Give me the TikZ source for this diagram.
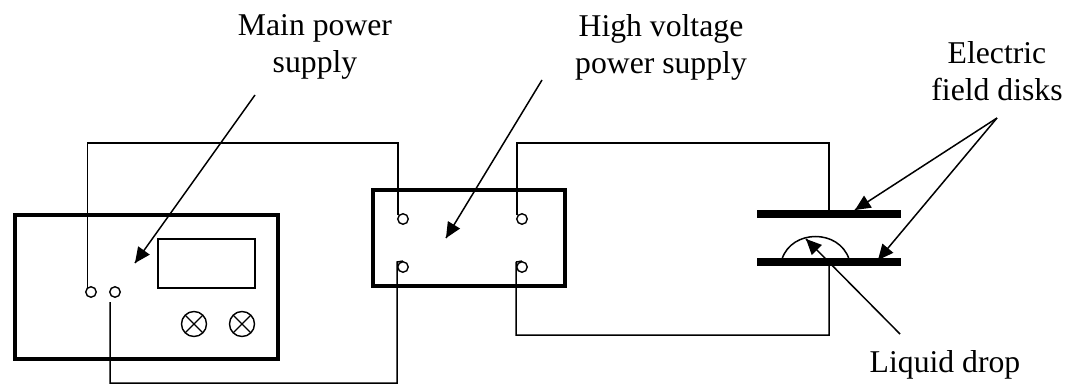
\documentclass[tikz,border=0pt]{standalone}
\usepackage{fontspec}
\setmainfont{Liberation Serif}
\usetikzlibrary{calc}
\tikzset{
  x=1pt,y=-1pt,
  thickbox/.style={draw=black,line width=3.6pt,fill=none},
  wire/.style={draw=black,line width=1.5pt},
  term/.style={circle,draw=black,line width=1.4pt,minimum size=10.5pt,inner sep=0pt},
  lamp/.style={circle,draw=black,line width=1.4pt,minimum size=25pt,inner sep=0pt,path picture={\draw[line width=1.3pt] (path picture bounding box.north west)--(path picture bounding box.south east) (path picture bounding box.north east)--(path picture bounding box.south west);}},
  plate/.style={fill=black,draw=none,inner sep=0pt,minimum width=144pt,minimum height=8pt},
  label/.style={font=\fontsize{31.7}{37}\selectfont,align=center,inner sep=0pt,text=black},
  lead/.style={line width=1.5pt,draw=black},
  head/.style={fill=black,draw=none}
}
\newcommand{\headat}[2]{\path let \p1=($(#1)-(#2)$), \n1={atan2(\y1,\x1)} in [head] (#2) -- +(\n1+25:17pt) -- +(\n1-25:17pt) -- cycle;}
\begin{document}
\begin{tikzpicture}
\useasboundingbox (0,0) rectangle (1068,385);
\node[label] (lmain) at (315,47) {Main power\\supply};
\node[label] (lhv) at (661,47) {High voltage\\power supply};
\node[label] (lfield) at (997,71) {Electric\\field disks};
\node[label] (ldrop) at (945,365) {Liquid drop};
\draw[thickbox] (15,215) rectangle (278,359);
\draw[thickbox] (373,190) rectangle (565,286);
\draw[line width=1.5pt] (158,239) rectangle (255,288);
\node[term] (a) at (91,292) {};
\node[term] (b) at (115,292) {};
\node[term] (c) at (403,219) {};
\node[term] (d) at (522,219) {};
\node[term] (e) at (403,267) {};
\node[term] (f) at (522,267) {};
\node[lamp] (l1) at (194,324) {};
\node[lamp] (l2) at (242,324) {};
\node[plate] (p1) at (829,214) {};
\node[plate] (p2) at (829,262) {};
\draw[wire] (87.5,288) |- (398,143) -- (398,215);
\draw[wire] (110,302) |- (397,383) -- (397,262) -- (e.north);
\draw[wire] (517,215) |- (829,143) -- (p1.center);
\draw[wire] (516,262) -- (f.north) (516,262) |- (829,335) -- (p2.center);
\draw[wire] (782,259) .. controls (792,229) and (839,229) .. (849,259);
\coordinate (s1) at (255,95);
\coordinate (t1) at (135,263);
\coordinate (s2) at (542,80);
\coordinate (t2) at (446,238);
\coordinate (s3) at (997,118);
\coordinate (t3) at (855,210);
\coordinate (s5) at (900,334);
\coordinate (t4) at (878,260);
\coordinate (t5) at (806,239);
\draw[lead] (s1) -- (t1);
\draw[lead] (s2) -- (t2);
\draw[lead] (s3) -- (t3);
\draw[lead] (s3) -- (t4);
\draw[lead] (s5) -- (t5);
\headat{s1}{t1}
\headat{s2}{t2}
\headat{s3}{t3}
\headat{s3}{t4}
\headat{s5}{t5}
\end{tikzpicture}
\end{document}
